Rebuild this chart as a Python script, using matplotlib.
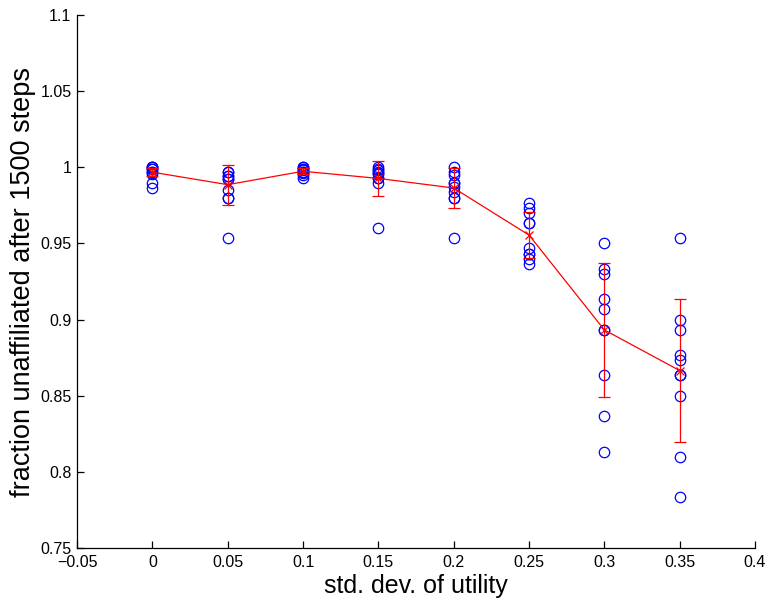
import numpy as np
import matplotlib
matplotlib.use('Agg')
import matplotlib.pyplot as plt
from matplotlib.ticker import FuncFormatter

plt.rcParams['font.family'] = ['Liberation Sans', 'DejaVu Sans']

# std. dev. of utility for each set of runs
sigma = [0.0, 0.05, 0.1, 0.15, 0.2, 0.25, 0.3, 0.35]

# fraction unaffiliated after 1500 steps, one list per sigma (10 runs each)
runs = [
    [1.0, 1.0, 1.0, 0.9987, 0.9987, 0.9967, 0.9967, 0.9953, 0.99, 0.9867],
    [0.9967, 0.9967, 0.9945, 0.9945, 0.9923, 0.9923, 0.9853, 0.98, 0.98, 0.9533],
    [1.0, 1.0, 0.9987, 0.9987, 0.998, 0.9967, 0.9967, 0.996, 0.9947, 0.9933],
    [1.0, 0.9987, 0.998, 0.9967, 0.996, 0.9953, 0.9933, 0.9933, 0.99, 0.96],
    [1.0, 0.9967, 0.995, 0.99, 0.9897, 0.987, 0.984, 0.98, 0.98, 0.9533],
    [0.9767, 0.9733, 0.97, 0.9633, 0.9633, 0.9467, 0.9433, 0.9433, 0.94, 0.9367],
    [0.95, 0.9333, 0.93, 0.9133, 0.9067, 0.8933, 0.8933, 0.8633, 0.8367, 0.8133],
    [0.9533, 0.9, 0.8933, 0.8767, 0.8733, 0.8633, 0.8633, 0.85, 0.81, 0.7833],
]

# mean and std. dev. across runs
means = [0.9968, 0.9886, 0.9974, 0.9927, 0.9864, 0.9555, 0.8932, 0.8665]
errs = [0.0028, 0.0132, 0.0020, 0.0115, 0.0131, 0.0153, 0.0438, 0.0470]

fig = plt.figure(figsize=(7.67, 6.01), dpi=100)
ax = fig.add_axes([0.1004, 0.0882, 0.884, 0.8868])

for s, r in zip(sigma, runs):
    ax.plot([s] * len(r), r, 'o', markersize=7.5, markerfacecolor='none',
            markeredgecolor='blue', markeredgewidth=0.9)

ax.errorbar(sigma, means, yerr=errs, color='red', linewidth=0.9,
            marker='x', markersize=6, markeredgewidth=0.9,
            capsize=4, capthick=0.9, elinewidth=0.9)

ax.set_xlim(-0.05, 0.4)
ax.set_ylim(0.75, 1.1)
ax.set_xticks(np.arange(-0.05, 0.401, 0.05))
ax.set_yticks(np.arange(0.75, 1.101, 0.05))
fmt = FuncFormatter(lambda v, p: ('%g' % round(v, 4)).replace('-', '\u2212'))
ax.xaxis.set_major_formatter(fmt)
ax.yaxis.set_major_formatter(fmt)

ax.spines['top'].set_visible(False)
ax.spines['right'].set_visible(False)
for sp in ('left', 'bottom'):
    ax.spines[sp].set_linewidth(0.9)
ax.tick_params(direction='in', length=5, width=0.9, labelsize=11.5)
ax.tick_params(axis='x', pad=5)
ax.tick_params(axis='y', pad=4)

ax.set_xlabel('std. dev. of utility', fontsize=18, labelpad=3)
ax.set_ylabel('fraction unaffiliated after 1500 steps', fontsize=19.5, labelpad=3)

fig.savefig('out.png', dpi=100)
